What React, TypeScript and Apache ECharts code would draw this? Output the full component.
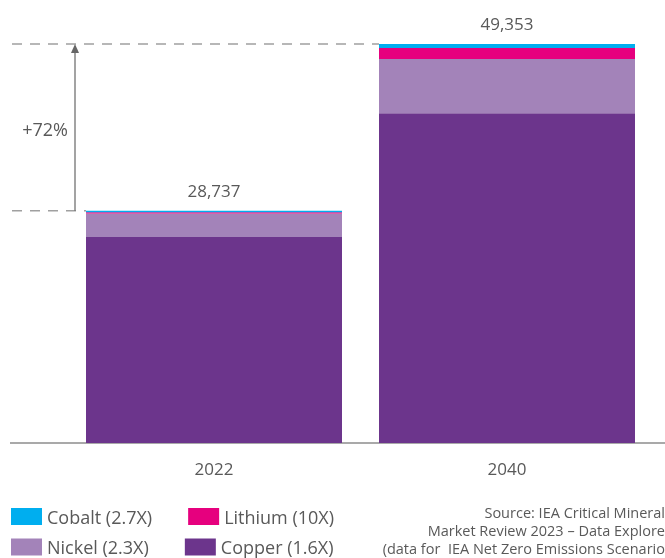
import React, { useEffect, useRef } from 'react';
import * as echarts from 'echarts';

const categories = ['2022', '2040'];
const copper = [25477, 40790];
const nickel = [2920, 6716];
const lithium = [140, 1360];
const cobalt = [200, 487];
const seriesNames = ['Copper (1.6X)', 'Nickel (2.3X)', 'Lithium (10X)', 'Cobalt (2.7X)'];
const seriesColors = ['#6C358C', '#A383B9', '#E6007E', '#00AEEF'];
const legendRow1 = ['Cobalt (2.7X)', 'Lithium (10X)'];
const legendRow2 = ['Nickel (2.3X)', 'Copper (1.6X)'];
const sourceLines = [
  'Source: IEA Critical Mineral',
  'Market Review 2023 – Data Explore',
  '(data for  IEA Net Zero Emissions Scenario',
];

const FONT = 'Open Sans';
const TEXT = '#595959';
const BAR_WIDTH = 256;

export default function App() {
  const ref = useRef<HTMLDivElement>(null);
  useEffect(() => {
    if (!ref.current) return;
    const chart = echarts.init(ref.current, null, { renderer: 'svg' });
    const seriesData = [copper, nickel, lithium, cobalt];
    const totals = categories.map((_, i) => seriesData.reduce((s, arr) => s + arr[i], 0));
    const maxTotal = Math.max(...totals);

    const legendBase = {
      icon: 'rect',
      itemWidth: 31,
      itemHeight: 17,
      itemGap: 36,
      padding: 0,
      selectedMode: false,
      left: 11,
      textStyle: { fontSize: 18, color: TEXT, fontFamily: FONT, width: 112 },
    };

    chart.setOption({
      animation: false,
      textStyle: { fontFamily: FONT },
      grid: { left: 67.5, right: 11.5, top: 44, bottom: 115 },
      legend: [
        { ...legendBase, data: legendRow1, top: 507.5 },
        { ...legendBase, data: legendRow2, top: 538 },
      ],
      xAxis: {
        type: 'category',
        data: categories,
        axisLine: { show: false },
        axisTick: { show: false },
        axisLabel: { fontSize: 17, color: TEXT, margin: 17, fontFamily: FONT },
      },
      yAxis: {
        type: 'value',
        min: 0,
        max: maxTotal,
        show: false,
        splitLine: { show: false },
      },
      series: seriesData.map((d, k) => ({
        name: seriesNames[k],
        type: 'bar',
        stack: 'total',
        barWidth: BAR_WIDTH,
        data: d,
        itemStyle: { color: seriesColors[k] },
        label:
          k === seriesData.length - 1
            ? {
                show: true,
                position: 'top',
                distance: 12,
                fontSize: 17,
                color: TEXT,
                fontFamily: FONT,
                formatter: (p: any) => totals[p.dataIndex].toLocaleString('en-US'),
              }
            : { show: false },
      })),
    });

    const p0 = chart.convertToPixel({ xAxisIndex: 0, yAxisIndex: 0 }, [0, totals[0]]) as number[];
    const p1 = chart.convertToPixel({ xAxisIndex: 0, yAxisIndex: 0 }, [1, totals[1]]) as number[];
    const base = chart.convertToPixel({ xAxisIndex: 0, yAxisIndex: 0 }, [0, 0]) as number[];
    const pct = Math.round((totals[1] / totals[0] - 1) * 100);
    const arrowX = 75;
    const dashStyle = { stroke: '#A0A0A0', lineWidth: 1.5, lineDash: [10, 8] };

    chart.setOption({
      graphic: [
        {
          type: 'line',
          shape: { x1: 10, y1: base[1], x2: 665, y2: base[1] },
          style: { stroke: '#8C8C8C', lineWidth: 1.5 },
        },
        {
          type: 'line',
          shape: { x1: 12, y1: p1[1], x2: p1[0] - BAR_WIDTH / 2, y2: p1[1] },
          style: dashStyle,
        },
        {
          type: 'line',
          shape: { x1: 12, y1: p0[1], x2: p0[0] - BAR_WIDTH / 2, y2: p0[1] },
          style: dashStyle,
        },
        {
          type: 'line',
          shape: { x1: arrowX, y1: p0[1], x2: arrowX, y2: p1[1] + 8 },
          style: { stroke: '#666666', lineWidth: 1.2 },
        },
        {
          type: 'polygon',
          shape: { points: [[arrowX, p1[1]], [arrowX - 4, p1[1] + 9], [arrowX + 4, p1[1] + 9]] },
          style: { fill: '#666666' },
        },
        {
          type: 'text',
          x: 68,
          y: (p0[1] + p1[1]) / 2 + 2,
          style: {
            text: `+${pct}%`,
            textAlign: 'right',
            textVerticalAlign: 'middle',
            fontSize: 18,
            fill: TEXT,
            fontFamily: FONT,
          },
        },
        {
          type: 'text',
          x: 665,
          y: 503,
          style: {
            text: sourceLines.join('\n'),
            textAlign: 'right',
            fontSize: 14.5,
            lineHeight: 18,
            fill: TEXT,
            fontFamily: FONT,
          },
        },
      ],
    });

    return () => chart.dispose();
  }, []);
  return <div ref={ref} style={{ position: 'fixed', left: 0, top: 0, width: 665, height: 558 }} />;
}
